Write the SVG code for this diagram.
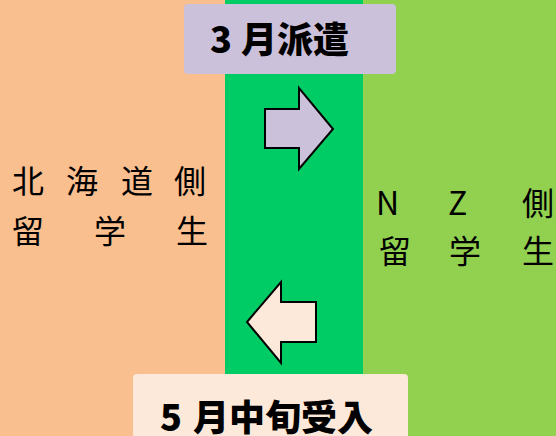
<svg xmlns="http://www.w3.org/2000/svg" width="556" height="436" viewBox="0 0 556 436">
<style>
.lbl{font-family:"Noto Sans CJK JP","Noto Sans",sans-serif;font-size:32px;fill:#000}
.ttl{font-family:"Noto Sans CJK JP","Noto Sans",sans-serif;font-size:36px;font-weight:900;fill:#000}
.arr{stroke:#000;stroke-width:2;stroke-linejoin:miter}
</style>
<g id="hokkaido-side">
<rect x="0" y="0" width="225" height="436" fill="#FABF8F"/>
<text class="lbl" y="193"><tspan x="12">北</tspan><tspan x="66">海</tspan><tspan x="121">道</tspan><tspan x="174">側</tspan></text>
<text class="lbl" y="243"><tspan x="12">留</tspan><tspan x="94">学</tspan><tspan x="176">生</tspan></text>
</g>
<g id="middle">
<rect x="225" y="0" width="138" height="436" fill="#00CC66"/>
</g>
<g id="nz-side">
<rect x="363" y="0" width="193" height="436" fill="#92D050"/>
<text class="lbl" y="215"><tspan x="376">N</tspan><tspan x="448">Z</tspan><tspan x="522">側</tspan></text>
<text class="lbl" y="263"><tspan x="379">留</tspan><tspan x="449">学</tspan><tspan x="522">生</tspan></text>
</g>
<g id="march-box">
<rect x="184" y="4" width="212" height="70" rx="4" fill="#CCC1DA"/>
<text class="ttl" y="53"><tspan x="210">3</tspan><tspan x="241">月派遣</tspan></text>
</g>
<g id="may-box">
<rect x="133" y="374" width="275" height="80" rx="4" fill="#FDE9D9"/>
<text class="ttl" y="431"><tspan x="160">5</tspan><tspan x="193">月中旬受入</tspan></text>
</g>
<g id="connectors">
<path class="arr" fill="#CCC1DA" d="M265,109 L299,109 L299,88 L333,129 L299,169 L299,148 L265,148 Z"/>
<path class="arr" fill="#FDE9D9" d="M316,302 L281,302 L281,282 L247,322 L281,363 L281,342 L316,342 Z"/>
</g>
</svg>
